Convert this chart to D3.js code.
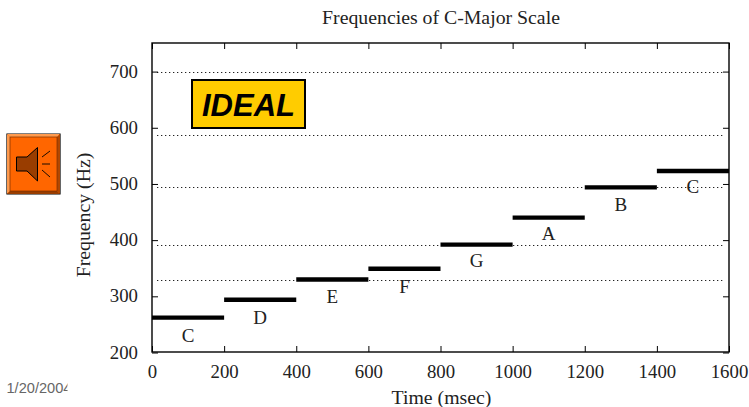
<!DOCTYPE html>
<html><head><meta charset="utf-8">
<script src="https://cdn.jsdelivr.net/npm/d3@7"></script>
<style>html,body{margin:0;padding:0;background:#fff}svg{display:block}</style>
</head><body><svg id="c" width="749" height="407"></svg>
<script>
const notes = ["C","D","E","F","G","A","B","C"];
const startTimes = [0,200,400,600,800,1000,1200,1400];
const endTimes = [200,400,600,800,1000,1200,1400,1600];
const frequencies = [262,294,330,349,392,440,494,523];
const labelFrequencies = [231,263,300,318,364,411,464,496];
const gridValues = [330,392,494,587,699];
const xTicks = [0,200,400,600,800,1000,1200,1400,1600];
const yTicks = [200,300,400,500,600,700];
const svg = d3.select("#c");
const serif = "'Liberation Serif','Times New Roman',serif";
const sans = "'Liberation Sans',Arial,sans-serif";
const x = d3.scaleLinear().domain([0,1600]).range([152,729]);
const y = d3.scaleLinear().domain([200,750]).range([352.5,43.5]);

svg.selectAll("line.grid").data(gridValues).join("line").attr("class","grid")
 .attr("x1",157).attr("x2",725).attr("y1",d=>Math.round(y(d)+.1)+.5).attr("y2",d=>Math.round(y(d)+.1)+.5)
 .attr("stroke","#222").attr("stroke-width",1.1).attr("stroke-dasharray","1.3 2.7");

svg.selectAll("line.note").data(notes).join("line").attr("class","note")
 .attr("x1",(d,i)=>x(startTimes[i])).attr("x2",(d,i)=>x(endTimes[i]))
 .attr("y1",(d,i)=>y(frequencies[i])).attr("y2",(d,i)=>y(frequencies[i]))
 .attr("stroke","#000").attr("stroke-width",4.4);

svg.selectAll("text.note").data(notes).join("text").attr("class","note")
 .attr("x",(d,i)=>x((startTimes[i]+endTimes[i])/2)).attr("y",(d,i)=>y(labelFrequencies[i]))
 .attr("text-anchor","middle").attr("dominant-baseline","central")
 .attr("font-family",serif).attr("font-size",19).attr("fill","#222").text(d=>d);

const ax = g=>{g.selectAll("text").attr("font-family",serif).attr("font-size",18.8).attr("fill","#222");
 g.selectAll("line").attr("stroke","#000").attr("stroke-width",1);g.select(".domain").remove();};
svg.append("g").attr("transform","translate(0,352)")
 .call(d3.axisTop(x).tickValues(xTicks).tickSize(6).tickFormat(d3.format("d"))).call(ax)
 .selectAll("text").attr("y",19).attr("dy",0).attr("dominant-baseline","central");
svg.append("g").attr("transform","translate(152,0)")
 .call(d3.axisRight(y).tickValues(yTicks).tickSize(6).tickFormat(d3.format("d"))).call(ax)
 .selectAll("text").attr("x",-14).attr("y",-1).attr("dy",0).attr("text-anchor","end").attr("dominant-baseline","central");
svg.append("g").attr("transform","translate(729,0)")
 .call(d3.axisLeft(y).tickValues(yTicks).tickSize(6).tickFormat("")).call(ax);
svg.append("g").attr("transform","translate(0,43)")
 .call(d3.axisBottom(x).tickValues(xTicks).tickSize(6).tickFormat("")).call(ax);
svg.append("rect").attr("x",152).attr("y",43).attr("width",577).attr("height",309)
 .attr("fill","none").attr("stroke","#000").attr("stroke-width",1.4);

const T=(t,px,py,o={})=>svg.append("text").attr("x",px).attr("y",py).attr("text-anchor",o.a||"middle")
 .attr("dominant-baseline","central").attr("font-family",o.f||serif).attr("font-size",o.s||18)
 .attr("fill",o.c||"#222").attr("transform",o.r?`rotate(${o.r} ${px} ${py})`:null)
 .attr("font-weight",o.w||null).attr("font-style",o.i||null).text(t);
T("Frequencies of C-Major Scale",441,17,{s:19.8});
T("Time (msec)",441.5,397,{s:19.8});
T("Frequency (Hz)",83,215,{s:19.8,r:-90});

// IDEAL badge
svg.append("rect").attr("x",192).attr("y",80).attr("width",113).attr("height",48)
 .attr("fill","#ffcc00").attr("stroke","#000").attr("stroke-width",2);
T("IDEAL",248.5,105.5,{f:sans,s:31,w:"bold",i:"italic",c:"#000"});

// speaker button
const btn = svg.append("g");
const poly=(pts,fill,stroke,sw)=>btn.append("polygon").attr("points",pts.join(" "))
 .attr("fill",fill).attr("stroke",stroke||"none").attr("stroke-width",sw||0);
poly(["7,134","60,134","60,194","7,194"],"#ff6600","#000",1.2);
poly(["7,134","60,134","57,137","10,137"],"#ff9a4d");
poly(["7,134","10,137","10,191","7,194"],"#ff9a4d");
poly(["60,134","60,194","57,191","57,137"],"#b34700");
poly(["7,194","60,194","57,191","10,191"],"#993d00");
btn.append("rect").attr("x",10).attr("y",137).attr("width",47).attr("height",54).attr("fill","none").attr("stroke","#7a3000").attr("stroke-width",.7);
poly(["16.5,157","27,157","37.5,147.5","37.5,181","27,171","16.5,171"],"#993d00","#000",1);
[[42,157,50,151],[42,164,50,164],[42,170,50,177]].forEach(l=>btn.append("line")
 .attr("x1",l[0]).attr("y1",l[1]).attr("x2",l[2]).attr("y2",l[3]).attr("stroke","#000").attr("stroke-width",.9));

// clipped date
svg.append("clipPath").attr("id","dc").append("rect").attr("x",0).attr("y",370).attr("width",67.5).attr("height",30);
T("1/20/2004",6.5,388,{f:sans,s:14.6,c:"#666",a:"start"}).attr("clip-path","url(#dc)");
</script></body></html>
